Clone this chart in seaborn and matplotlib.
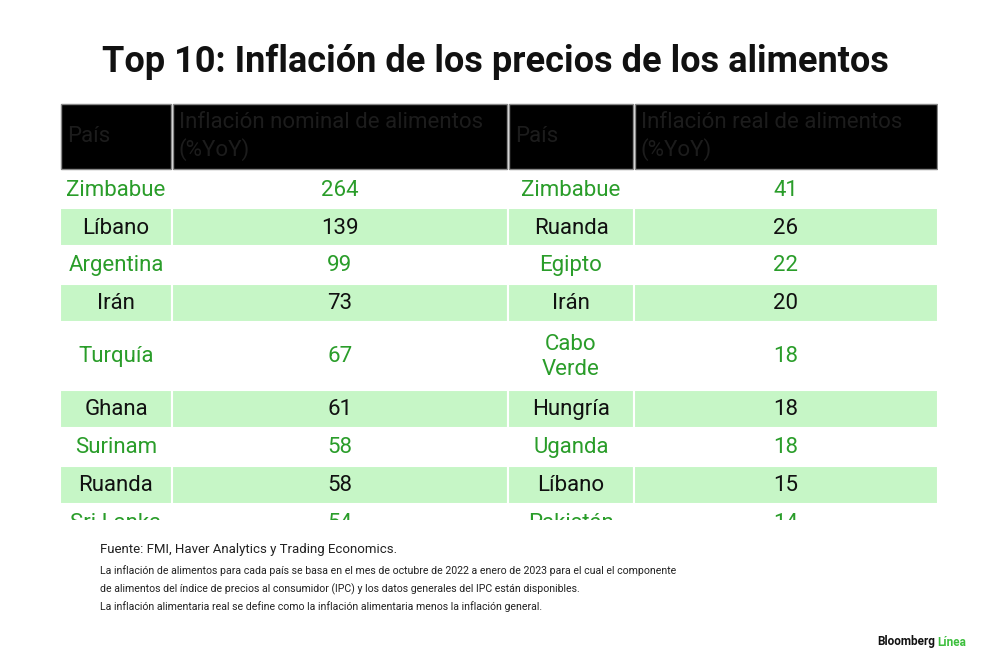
import matplotlib.pyplot as plt
import seaborn as sns
from matplotlib.patches import Rectangle

paises_nominal = ["Zimbabue", "Líbano", "Argentina", "Irán", "Turquía", "Ghana", "Surinam", "Ruanda", "Sri Lanka"]
inflacion_nominal = [264, 139, 99, 73, 67, 61, 58, 58, 54]
paises_real = ["Zimbabue", "Ruanda", "Egipto", "Irán", "Cabo\nVerde", "Hungría", "Uganda", "Líbano", "Pakistán"]
inflacion_real = [41, 26, 22, 20, 18, 18, 18, 15, 14]
encabezados = ["País", "Inflación nominal de alimentos\n(%YoY)", "País", "Inflación real de alimentos\n(%YoY)"]

sns.set_theme(style="white")
plt.rcParams['font.family'] = ['Roboto', 'DejaVu Sans']

GREEN_TXT = "#2a9d2a"
GREEN_BG = "#c6f6c6"

fig = plt.figure(figsize=(10, 6.71), dpi=100)
fig.patch.set_facecolor("white")

# table area in pixel coords, clipped at bottom
top, bottom, left, right = 103, 520, 60, 938
ax = fig.add_axes([left / 1000, (671 - bottom) / 671, (right - left) / 1000, (bottom - top) / 671])
ax.set_xlim(left, right)
ax.set_ylim(bottom, top)
ax.axis("off")

cols = [60, 172, 508, 634, 938]
header_h = 67
row_h = [38, 38, 38, 38, 68, 38, 38, 38, 38]

# header
y = top
for i, txt in enumerate(encabezados):
    ax.add_patch(Rectangle((cols[i] + 1, y + 1), cols[i + 1] - cols[i] - 2, header_h - 2,
                           facecolor="black", edgecolor="#888888", lw=1))
    ax.text(cols[i] + 7, y + header_h / 2, txt, color="#1c1c1c", fontsize=16,
            va="center", ha="left", linespacing=1.25)
y += header_h

for r in range(len(paises_nominal)):
    h = row_h[r]
    shaded = r % 2 == 1
    if shaded:
        for i in range(4):
            ax.add_patch(Rectangle((cols[i], y), cols[i + 1] - cols[i], h,
                                   facecolor=GREEN_BG, edgecolor="white", lw=1.5))
    color = "#111111" if shaded else GREEN_TXT
    vals = [paises_nominal[r], str(inflacion_nominal[r]), paises_real[r], str(inflacion_real[r])]
    for i, v in enumerate(vals):
        ax.text((cols[i] + cols[i + 1]) / 2, y + h / 2 + 1, v, color=color, fontsize=16,
                ha="center", va="center", linespacing=1.3, clip_on=True)
    y += h

fig.text(0.495, 1 - 62 / 671, "Top 10: Inflación de los precios de los alimentos",
         ha="center", va="center", fontsize=26, fontweight="bold", color="#111111")
fig.text(0.10, 1 - 550 / 671, "Fuente: FMI, Haver Analytics y Trading Economics.",
         fontsize=9.5, color="#222222", va="center")
notas = ["La inflación de alimentos para cada país se basa en el mes de octubre de 2022 a enero de 2023 para el cual el componente",
         "de alimentos del índice de precios al consumidor (IPC) y los datos generales del IPC están disponibles.",
         "La inflación alimentaria real se define como la inflación alimentaria menos la inflación general."]
for k, n in enumerate(notas):
    fig.text(0.10, 1 - (571 + k * 18) / 671, n, fontsize=7.6, color="#222222", va="center")
fig.text(0.935, 1 - 642 / 671, "Bloomberg", fontsize=8.5, fontweight="bold", ha="right", va="center", color="#111111")
fig.text(0.937, 1 - 642 / 671, "Línea", fontsize=8.5, fontweight="bold", ha="left", va="center", color="#3cbf3c")

fig.savefig("out.png", dpi=100, facecolor="white")
